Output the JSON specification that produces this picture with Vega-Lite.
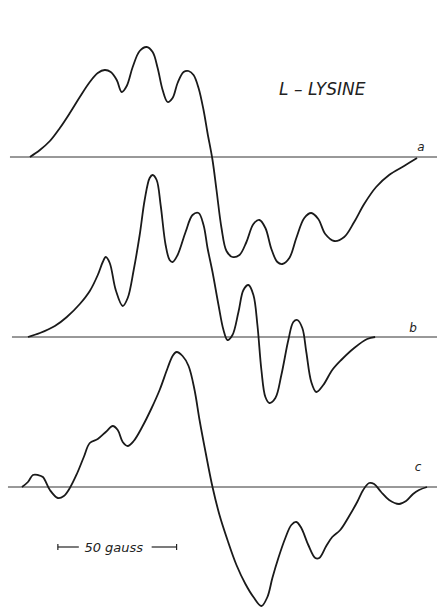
{
  "$schema": "https://vega.github.io/schema/vega-lite/v6.json",
  "width": 438,
  "height": 610,
  "autosize": {"type": "fit", "contains": "padding"},
  "padding": 0,
  "background": "white",
  "config": {"view": {"stroke": null}},
  "datasets": {
    "curves": [
      {"curve":"a","x":30,"y":157},{"curve":"a","x":40,"y":150},{"curve":"a","x":50,"y":141},{"curve":"a","x":60,"y":128},{"curve":"a","x":70,"y":113},{"curve":"a","x":80,"y":97},{"curve":"a","x":90,"y":82},{"curve":"a","x":98,"y":73},{"curve":"a","x":105,"y":70},{"curve":"a","x":111,"y":72},{"curve":"a","x":117,"y":80},{"curve":"a","x":122,"y":92},{"curve":"a","x":127,"y":86},{"curve":"a","x":133,"y":67},{"curve":"a","x":140,"y":51},{"curve":"a","x":147,"y":47},{"curve":"a","x":153,"y":52},{"curve":"a","x":158,"y":68},{"curve":"a","x":163,"y":90},{"curve":"a","x":168,"y":102},{"curve":"a","x":173,"y":98},{"curve":"a","x":178,"y":83},{"curve":"a","x":184,"y":72},{"curve":"a","x":189,"y":71},{"curve":"a","x":194,"y":75},{"curve":"a","x":199,"y":88},{"curve":"a","x":204,"y":110},{"curve":"a","x":208,"y":133},{"curve":"a","x":213,"y":160},{"curve":"a","x":217,"y":190},{"curve":"a","x":222,"y":228},{"curve":"a","x":227,"y":251},{"curve":"a","x":233,"y":257},{"curve":"a","x":240,"y":255},{"curve":"a","x":247,"y":242},{"curve":"a","x":254,"y":224},{"curve":"a","x":260,"y":220},{"curve":"a","x":266,"y":228},{"curve":"a","x":272,"y":249},{"curve":"a","x":278,"y":262},{"curve":"a","x":283,"y":264},{"curve":"a","x":290,"y":258},{"curve":"a","x":297,"y":238},{"curve":"a","x":305,"y":218},{"curve":"a","x":312,"y":213},{"curve":"a","x":319,"y":219},{"curve":"a","x":326,"y":234},{"curve":"a","x":335,"y":241},{"curve":"a","x":345,"y":237},{"curve":"a","x":355,"y":222},{"curve":"a","x":365,"y":204},{"curve":"a","x":377,"y":187},{"curve":"a","x":390,"y":175},{"curve":"a","x":405,"y":166},{"curve":"a","x":418,"y":158},
      {"curve":"b","x":28,"y":337},{"curve":"b","x":40,"y":333},{"curve":"b","x":55,"y":326},{"curve":"b","x":67,"y":317},{"curve":"b","x":80,"y":304},{"curve":"b","x":90,"y":291},{"curve":"b","x":98,"y":275},{"curve":"b","x":103,"y":262},{"curve":"b","x":106,"y":257},{"curve":"b","x":110,"y":263},{"curve":"b","x":116,"y":290},{"curve":"b","x":123,"y":306},{"curve":"b","x":128,"y":298},{"curve":"b","x":134,"y":270},{"curve":"b","x":140,"y":235},{"curve":"b","x":145,"y":200},{"curve":"b","x":150,"y":178},{"curve":"b","x":153,"y":175},{"curve":"b","x":157,"y":180},{"curve":"b","x":161,"y":205},{"curve":"b","x":166,"y":245},{"curve":"b","x":170,"y":260},{"curve":"b","x":173,"y":262},{"curve":"b","x":178,"y":255},{"curve":"b","x":186,"y":232},{"curve":"b","x":193,"y":215},{"curve":"b","x":199,"y":213},{"curve":"b","x":204,"y":225},{"curve":"b","x":208,"y":248},{"curve":"b","x":213,"y":272},{"curve":"b","x":219,"y":305},{"curve":"b","x":224,"y":330},{"curve":"b","x":228,"y":340},{"curve":"b","x":233,"y":335},{"curve":"b","x":239,"y":312},{"curve":"b","x":244,"y":290},{"curve":"b","x":249,"y":285},{"curve":"b","x":254,"y":295},{"curve":"b","x":258,"y":325},{"curve":"b","x":262,"y":370},{"curve":"b","x":266,"y":397},{"curve":"b","x":270,"y":403},{"curve":"b","x":276,"y":398},{"curve":"b","x":282,"y":375},{"curve":"b","x":289,"y":340},{"curve":"b","x":294,"y":322},{"curve":"b","x":298,"y":320},{"curve":"b","x":303,"y":328},{"curve":"b","x":307,"y":352},{"curve":"b","x":312,"y":382},{"curve":"b","x":317,"y":392},{"curve":"b","x":324,"y":385},{"curve":"b","x":333,"y":370},{"curve":"b","x":342,"y":360},{"curve":"b","x":355,"y":348},{"curve":"b","x":368,"y":339},{"curve":"b","x":376,"y":337},
      {"curve":"c","x":22,"y":487},{"curve":"c","x":28,"y":482},{"curve":"c","x":33,"y":475},{"curve":"c","x":38,"y":475},{"curve":"c","x":43,"y":477},{"curve":"c","x":50,"y":490},{"curve":"c","x":58,"y":498},{"curve":"c","x":64,"y":496},{"curve":"c","x":70,"y":488},{"curve":"c","x":77,"y":474},{"curve":"c","x":84,"y":457},{"curve":"c","x":90,"y":443},{"curve":"c","x":98,"y":439},{"curve":"c","x":106,"y":432},{"curve":"c","x":113,"y":426},{"curve":"c","x":118,"y":430},{"curve":"c","x":123,"y":442},{"curve":"c","x":128,"y":446},{"curve":"c","x":134,"y":441},{"curve":"c","x":143,"y":426},{"curve":"c","x":152,"y":408},{"curve":"c","x":160,"y":390},{"curve":"c","x":168,"y":368},{"curve":"c","x":173,"y":356},{"curve":"c","x":177,"y":352},{"curve":"c","x":183,"y":356},{"curve":"c","x":189,"y":366},{"curve":"c","x":195,"y":390},{"curve":"c","x":200,"y":420},{"curve":"c","x":206,"y":452},{"curve":"c","x":213,"y":487},{"curve":"c","x":220,"y":515},{"curve":"c","x":228,"y":540},{"curve":"c","x":237,"y":565},{"curve":"c","x":246,"y":584},{"curve":"c","x":254,"y":597},{"curve":"c","x":262,"y":606},{"curve":"c","x":268,"y":597},{"curve":"c","x":273,"y":578},{"curve":"c","x":279,"y":558},{"curve":"c","x":286,"y":538},{"curve":"c","x":292,"y":525},{"curve":"c","x":297,"y":522},{"curve":"c","x":302,"y":528},{"curve":"c","x":309,"y":545},{"curve":"c","x":316,"y":558},{"curve":"c","x":320,"y":558},{"curve":"c","x":327,"y":546},{"curve":"c","x":333,"y":537},{"curve":"c","x":341,"y":530},{"curve":"c","x":350,"y":516},{"curve":"c","x":358,"y":502},{"curve":"c","x":364,"y":490},{"curve":"c","x":370,"y":483},{"curve":"c","x":375,"y":484},{"curve":"c","x":382,"y":492},{"curve":"c","x":390,"y":500},{"curve":"c","x":400,"y":504},{"curve":"c","x":407,"y":501},{"curve":"c","x":414,"y":494},{"curve":"c","x":420,"y":490},{"curve":"c","x":428,"y":487}
    ],
    "baselines": [
      {"x":10,"x2":438,"y":157},
      {"x":12,"x2":438,"y":337},
      {"x":8,"x2":438,"y":487}
    ],
    "bar": [
      {"x":58,"x2":79,"y":547,"y2":547},
      {"x":152,"x2":177,"y":547,"y2":547},
      {"x":58,"x2":58,"y":544,"y2":550},
      {"x":177,"x2":177,"y":544,"y2":550}
    ],
    "labels": [
      {"x":323,"y":90,"text":"L – LYSINE","size":17},
      {"x":422,"y":147,"text":"a","size":12},
      {"x":414,"y":328,"text":"b","size":12},
      {"x":419,"y":467,"text":"c","size":12},
      {"x":114,"y":548,"text":"50 gauss","size":13}
    ]
  },
  "layer": [
    {
      "data": {"name": "baselines"},
      "mark": {"type": "rule", "color": "#333", "strokeWidth": 1},
      "encoding": {
        "x": {"field": "x", "type": "quantitative", "scale": {"domain": [0, 438], "nice": false, "zero": false}, "axis": null},
        "x2": {"field": "x2"},
        "y": {"field": "y", "type": "quantitative", "scale": {"domain": [0, 610], "nice": false, "zero": false, "reverse": true}, "axis": null}
      }
    },
    {
      "data": {"name": "curves"},
      "mark": {"type": "line", "interpolate": "catmull-rom", "color": "#1a1a1a", "strokeWidth": 1.8},
      "encoding": {
        "x": {"field": "x", "type": "quantitative"},
        "y": {"field": "y", "type": "quantitative"},
        "detail": {"field": "curve"}
      }
    },
    {
      "data": {"name": "bar"},
      "mark": {"type": "rule", "color": "#222", "strokeWidth": 1.2},
      "encoding": {
        "x": {"field": "x", "type": "quantitative"},
        "x2": {"field": "x2"},
        "y": {"field": "y", "type": "quantitative"},
        "y2": {"field": "y2"}
      }
    },
    {
      "data": {"name": "labels"},
      "mark": {"type": "text", "font": "DejaVu Sans", "fontStyle": "italic", "color": "#222", "align": "center", "baseline": "middle"},
      "encoding": {
        "x": {"field": "x", "type": "quantitative"},
        "y": {"field": "y", "type": "quantitative"},
        "text": {"field": "text"},
        "size": {"field": "size", "type": "quantitative", "scale": null}
      }
    }
  ]
}
